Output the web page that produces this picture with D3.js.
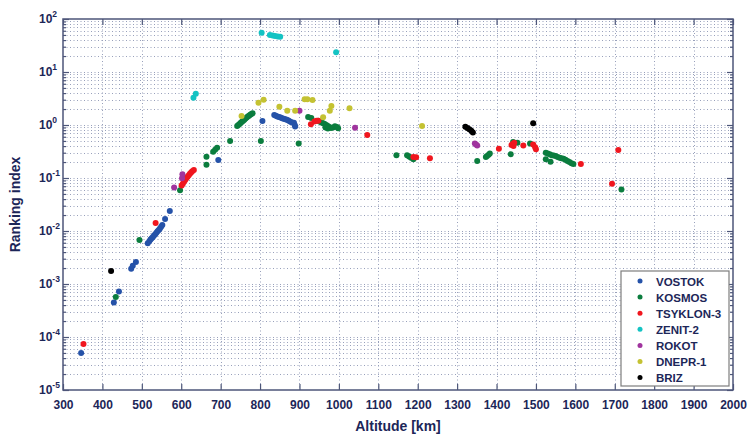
<!DOCTYPE html>
<html>
<head>
<meta charset="utf-8">
<script src="https://cdn.jsdelivr.net/npm/d3@7"></script>
<style>
  body { margin: 0; background: #fff; }
  svg text { font-family: "Liberation Sans", Arial, sans-serif; font-weight: bold; fill: #1c2658; }
</style>
</head>
<body>
<div id="chart"></div>
<script>
// launcher names, in legend order
var vehicles = ["VOSTOK", "KOSMOS", "TSYKLON-3", "ZENIT-2", "ROKOT", "DNEPR-1", "BRIZ"];

// [altitude km, ranking index]
var vostok = [[346,5.0e-5],[429,4.5e-4],[442,7.2e-4],[473,1.95e-3],[477,2.2e-3],[485,2.6e-3],
  [515,5.9e-3],[519,6.4e-3],[522,6.9e-3],[525,7.3e-3],[528,7.7e-3],[531,8.2e-3],[534,8.7e-3],
  [537,9.3e-3],[540,9.9e-3],[543,0.0105],[546,0.0112],[549,0.012],[552,0.013],[559,0.0168],[571,0.0238],
  [694,0.218],[806,1.19],[836,1.55],[840,1.5],[844,1.45],[848,1.42],[852,1.38],[856,1.34],[860,1.31],
  [864,1.28],[868,1.25],[872,1.22],[876,1.17],[880,1.13],[886,1.1],[888,1.0],[889,0.94]];
var kosmos = [[434,5.7e-4],[494,6.8e-3],[597,0.059],[664,0.178],[664,0.252],[681,0.313],[686,0.34],
  [691,0.373],[724,0.5],[742,0.96],[745,1.0],[748,1.05],[751,1.1],[754,1.15],[757,1.2],[760,1.26],
  [763,1.32],[766,1.38],[769,1.44],[772,1.5],[775,1.56],[778,1.62],[781,1.66],[802,0.5],[898,0.45],
  [922,1.42],[930,1.35],[947,1.2],[952,1.15],[956,1.12],[960,1.08],[964,1.04],[968,1.0],[972,0.96],
  [976,0.92],[980,0.88],[985,0.9],[990,0.95],[995,0.92],[998,0.87],[966,0.9],[972,0.86],
  [1146,0.27],[1173,0.27],[1178,0.255],[1183,0.24],[1189,0.225],[1351,0.21],[1373,0.25],[1376,0.26],
  [1380,0.275],[1383,0.29],[1436,0.28],[1442,0.48],[1453,0.46],[1485,0.45],[1525,0.3],[1530,0.29],
  [1535,0.28],[1540,0.27],[1545,0.265],[1550,0.26],[1555,0.25],[1560,0.24],[1565,0.235],[1570,0.23],
  [1575,0.22],[1580,0.21],[1585,0.2],[1590,0.19],[1595,0.184],[1525,0.225],[1537,0.203],[1717,0.061]];
var tsyklon = [[352,7.4e-5],[535,0.0142],[601,0.072],[604,0.078],[607,0.085],[610,0.092],[613,0.099],
  [616,0.106],[619,0.113],[622,0.12],[625,0.127],[628,0.134],[632,0.142],[929,1.03],[938,1.17],
  [943,1.2],[948,1.2],[1072,0.647],[1189,0.25],[1196,0.245],[1231,0.235],[1406,0.357],[1438,0.42],
  [1441,0.44],[1443,0.4],[1445,0.46],[1468,0.41],[1493,0.43],[1498,0.38],[1500,0.35],[1614,0.184],
  [1693,0.078],[1709,0.337]];
var zenit = [[631,3.27],[637,3.9],[804,55],[825,50],[832,49],[838,48],[845,47],[851,46],[993,23.5]];
var rokot = [[582,0.066],[602,0.099],[603,0.118],[900,1.86],[1041,0.89],[1345,0.45],[1348,0.43],[1351,0.41]];
var dnepr = [[753,1.48],[796,2.63],[809,3.0],[849,2.21],[869,1.86],[889,1.86],[913,3.05],[920,3.05],
  [933,2.96],[960,1.4],[977,1.86],[981,2.28],[1027,2.07],[1211,0.957]];
var briz = [[422,1.76e-3],[1321,0.93],[1326,0.88],[1331,0.83],[1336,0.78],[1340,0.72],[1493,1.08]];

var xTicks = d3.range(300, 2001, 100);
var yExps = [-5, -4, -3, -2, -1, 0, 1, 2];

var seriesData = [vostok, kosmos, tsyklon, zenit, rokot, dnepr, briz];
var colors = ["#2552a8", "#0b7d3e", "#f0161e", "#14c3c3", "#a0349e", "#c4c232", "#000000"];

var margin = {top: 19, right: 14, bottom: 47, left: 63};
var width = 747 - margin.left - margin.right,
    height = 437 - margin.top - margin.bottom;

var svg = d3.select("#chart").append("svg")
    .attr("width", 747).attr("height", 437)
  .append("g")
    .attr("transform", "translate(" + margin.left + "," + margin.top + ")");

var x = d3.scaleLinear().domain([300, 2000]).range([0, width]);
var y = d3.scaleLog().domain([1e-5, 1e2]).range([height, 0]);

var gridCol = "#98a0bb";

// minor + major y grid
var yMinor = [];
yExps.slice(0, -1).forEach(function(e) {
  for (var k = 2; k <= 9; k++) yMinor.push(k * Math.pow(10, e));
});
var yMajor = yExps.map(function(e) { return Math.pow(10, e); });

svg.append("g").selectAll("line")
    .data(yMinor.concat(yMajor.slice(1, -1)))
    .enter().append("line")
    .attr("x1", 0).attr("x2", width)
    .attr("y1", function(d) { return Math.round(y(d)) + 0.5; })
    .attr("y2", function(d) { return Math.round(y(d)) + 0.5; })
    .attr("stroke", gridCol).attr("stroke-width", 1)
    .attr("stroke-dasharray", "1,2.5");

svg.append("g").selectAll("line")
    .data(xTicks.slice(1, -1))
    .enter().append("line")
    .attr("y1", 0).attr("y2", height)
    .attr("x1", function(d) { return Math.round(x(d)) + 0.5; })
    .attr("x2", function(d) { return Math.round(x(d)) + 0.5; })
    .attr("stroke", gridCol).attr("stroke-width", 1)
    .attr("stroke-dasharray", "1,2.5");

// axes with inward ticks
var axisCol = "#4d5679";
function styleAxis(g) {
  g.select(".domain").remove();
  g.selectAll("line").attr("stroke", axisCol).attr("stroke-width", 1.2);
}

var xAxis = svg.append("g")
    .attr("transform", "translate(0," + height + ")")
    .call(d3.axisBottom(x).tickValues(xTicks).tickSize(-6).tickPadding(10).tickFormat(d3.format("d")));
styleAxis(xAxis);
xAxis.selectAll("text").attr("font-size", "12px").attr("fill", "#1c2658")
    .attr("font-family", "Liberation Sans, Arial, sans-serif").attr("font-weight", "bold");

svg.append("g")
    .call(d3.axisTop(x).tickValues(xTicks).tickSize(-6).tickFormat(""))
    .call(styleAxis);

svg.append("g")
    .call(d3.axisLeft(y).tickValues(yMajor).tickSize(-6).tickFormat(""))
    .call(styleAxis);
svg.append("g")
    .call(d3.axisLeft(y).tickValues(yMinor).tickSize(-3).tickFormat(""))
    .call(styleAxis);
svg.append("g").attr("transform", "translate(" + width + ",0)")
    .call(d3.axisRight(y).tickValues(yMajor).tickSize(-6).tickFormat(""))
    .call(styleAxis);
svg.append("g").attr("transform", "translate(" + width + ",0)")
    .call(d3.axisRight(y).tickValues(yMinor).tickSize(-3).tickFormat(""))
    .call(styleAxis);

// y tick labels 10^n
var yl = svg.append("g").selectAll("text")
    .data(yExps)
    .enter().append("text")
    .attr("x", -24).attr("y", function(d) { return y(Math.pow(10, d)) + 4; })
    .attr("text-anchor", "start")
    .attr("font-size", "12px");
yl.append("tspan").attr("x", -24).text("10");
yl.append("tspan").attr("dy", -6).attr("font-size", "8.5px").text(function(d) { return d; });

// frame
svg.append("rect")
    .attr("x", 0).attr("y", 0).attr("width", width).attr("height", height)
    .attr("fill", "none").attr("stroke", axisCol).attr("stroke-width", 1.5);

// points
seriesData.forEach(function(s, i) {
  svg.append("g").selectAll("circle")
      .data(s)
      .enter().append("circle")
      .attr("cx", function(d) { return x(d[0]); })
      .attr("cy", function(d) { return y(d[1]); })
      .attr("r", 3)
      .attr("fill", colors[i]);
});

// axis titles
svg.append("text")
    .attr("x", width / 2).attr("y", height + 41)
    .attr("text-anchor", "middle").attr("font-size", "14px")
    .text("Altitude [km]");
svg.append("text")
    .attr("transform", "translate(-43," + (height / 2) + ") rotate(-90)")
    .attr("text-anchor", "middle").attr("font-size", "14px")
    .text("Ranking index");

// legend
var lg = svg.append("g").attr("transform", "translate(" + (width - 112) + "," + (height - 119) + ")");
lg.append("rect")
    .attr("width", 108).attr("height", 115)
    .attr("fill", "#fff").attr("stroke", "#7d7d7d").attr("stroke-width", 1.2);
vehicles.forEach(function(v, i) {
  lg.append("circle").attr("cx", 19).attr("cy", 10 + i * 16.1).attr("r", 2.5).attr("fill", colors[i]);
  lg.append("text").attr("x", 35).attr("y", 14.5 + i * 16.1).attr("font-size", "11.5px").text(v);
});
</script>
</body>
</html>
